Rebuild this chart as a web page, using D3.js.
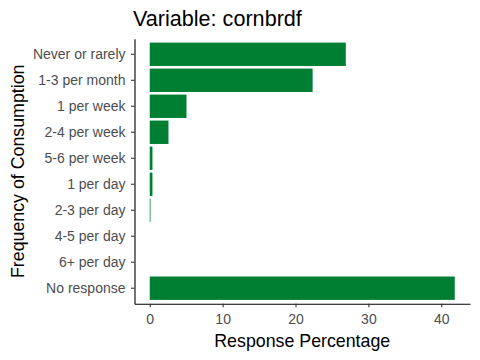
<!DOCTYPE html>
<html><head><meta charset="utf-8">
<script src="https://cdn.jsdelivr.net/npm/d3@7"></script>
<style>body{margin:0;background:#fff}svg{display:block}</style>
</head><body>
<script>
const categories = ["Never or rarely","1-3 per month","1 per week","2-4 per week","5-6 per week","1 per day","2-3 per day","4-5 per day","6+ per day","No response"];
const values = [26.9, 22.35, 5.04, 2.57, 0.37, 0.37, 0.1, 0, 0, 41.85];
const xTicks = [0, 10, 20, 30, 40];
const title = "Variable: cornbrdf";
const xTitle = "Response Percentage";
const yTitle = "Frequency of Consumption";

const W = 480, H = 360;
const m = {left: 134.5, right: 470, top: 38.7, bottom: 303.8};
const svg = d3.select("body").append("svg").attr("width", W).attr("height", H);
const font = "'Liberation Sans', Arial, sans-serif";

const maxV = d3.max(values);
const ex = maxV * 0.05;
const x = d3.scaleLinear().domain([-ex, maxV + ex]).range([m.left, m.right]);
// ggplot-like: 0.6 category units of expansion; bar width 0.9
const y = d3.scaleBand().domain(categories).range([m.top, m.bottom]).paddingInner(0.1).paddingOuter(0.15);

svg.append("g").selectAll("rect").data(categories).join("rect")
  .attr("x", x(0))
  .attr("y", d => y(d))
  .attr("width", (d,i) => x(values[i]) - x(0))
  .attr("height", y.bandwidth())
  .attr("fill", "#007F33");

const xAxis = svg.append("g").attr("transform", `translate(0,${m.bottom})`)
  .call(d3.axisBottom(x).tickValues(xTicks).tickSize(3.5).tickPadding(7).tickSizeOuter(0));
xAxis.select(".domain").attr("stroke", "#000").attr("stroke-width", 1.1);
xAxis.selectAll(".tick line").attr("stroke", "#333").attr("stroke-width", 1.1);
xAxis.selectAll("text").attr("fill", "#4D4D4D").style("font-family", font).style("font-size", "14px");

const yAxis = svg.append("g").attr("transform", `translate(${m.left},0)`)
  .call(d3.axisLeft(y).tickSize(3.5).tickPadding(5.5).tickSizeOuter(0));
yAxis.select(".domain").attr("stroke", "#000").attr("stroke-width", 1.1);
yAxis.selectAll(".tick line").attr("stroke", "#333").attr("stroke-width", 1.1);
yAxis.selectAll("text").attr("fill", "#4D4D4D").style("font-family", font).style("font-size", "14px");

svg.append("text").attr("x", 133).attr("y", 26).text(title)
  .style("font-family", font).style("font-size", "21.6px").attr("fill", "#000");
svg.append("text").attr("x", (m.left + m.right) / 2).attr("y", 347).attr("text-anchor", "middle")
  .text(xTitle).style("font-family", font).style("font-size", "17.8px").attr("fill", "#000");
svg.append("text").attr("transform", `translate(24,${(m.top + m.bottom) / 2}) rotate(-90)`)
  .attr("text-anchor", "middle").text(yTitle)
  .style("font-family", font).style("font-size", "17.8px").attr("fill", "#000");
</script>
</body></html>
